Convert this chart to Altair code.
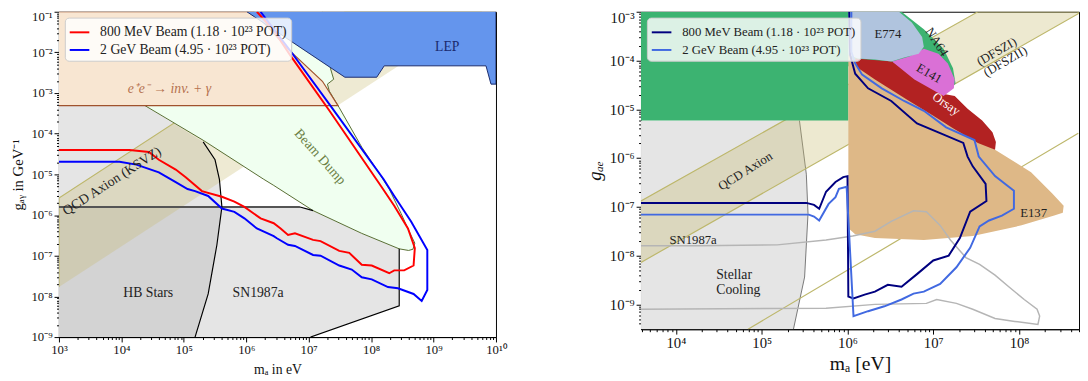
import altair as alt
import pandas as pd
import numpy as np

SERIF = "Liberation Serif"

# ---------------- LEFT PANEL (log10 m_a [eV], log10 g_ag [GeV^-1]) ----------------
red_logm = [3.00, 4.13, 4.44, 4.60, 4.87, 5.03, 5.29, 5.61, 5.81, 5.97, 6.23, 6.44, 6.55, 6.67, 6.78,
            7.07, 7.19, 7.49, 7.65, 7.85, 8.01, 8.29, 8.37, 8.53, 8.68, 8.70, 8.59, 8.37, 8.16, 7.33,
            6.70, 6.44, 6.17]
red_logg = [-4.40, -4.40, -4.45, -4.64, -4.88, -5.07, -5.41, -5.55, -5.67, -5.80, -6.08, -6.20, -6.33,
            -6.49, -6.45, -6.61, -6.64, -6.88, -6.93, -7.22, -7.24, -7.43, -7.36, -7.36, -7.24, -6.81,
            -6.33, -5.77, -5.29, -3.43, -2.06, -1.46, -1.00]
blue_logm = [3.00, 3.97, 4.24, 4.60, 4.87, 5.06, 5.18, 5.39, 5.61, 5.81, 5.97, 6.17, 6.44, 6.49, 6.67,
             6.78, 7.07, 7.19, 7.49, 7.69, 7.85, 8.01, 8.27, 8.43, 8.68, 8.81, 8.90, 8.90, 8.64, 8.37,
             8.20, 7.33, 6.72, 6.23]
blue_logg = [-4.69, -4.69, -4.76, -4.95, -5.19, -5.36, -5.41, -5.53, -5.84, -5.92, -6.08, -6.33, -6.52,
             -6.57, -6.73, -6.76, -6.98, -7.00, -7.24, -7.34, -7.53, -7.58, -7.77, -7.80, -7.94, -8.11,
             -7.84, -6.86, -6.16, -5.53, -5.12, -3.27, -1.99, -1.00]
eeinv_logm = [3.00, 6.12, 6.67, 7.22, 7.47, 3.00]
eeinv_logg = [-1.00, -1.00, -1.92, -2.71, -3.31, -3.31]
beam_logm = [3.00, 3.00, 4.38, 5.31, 6.28, 6.44, 7.07, 7.85, 8.45, 8.60, 8.67, 8.70, 8.60, 8.48, 8.29,
             8.12, 7.85, 7.49, 7.33, 7.30, 7.40, 7.35, 7.22]
beam_logg = [-1.00, -2.06, -3.31, -4.16, -5.12, -5.27, -5.89, -6.45, -6.83, -6.87, -6.84, -6.69, -6.37,
             -5.96, -5.36, -4.95, -4.33, -3.36, -2.95, -2.78, -2.66, -2.40, -1.00]
lep_logm = [6.01, 7.58, 8.09, 8.21, 9.84, 9.92, 10.0, 10.0]
lep_logg = [-1.00, -2.61, -2.61, -2.33, -2.33, -2.78, -2.78, -1.00]
ksvz_logm = [3.00, 3.00, 7.58, 9.77]
ksvz_logg = [-7.77, -5.58, -1.00, -1.00]
gray_up_logm = [3.00, 4.38, 5.31, 5.50, 5.57, 5.61, 3.00]
gray_up_logg = [-3.31, -3.31, -4.20, -4.64, -5.12, -5.80, -5.80]
hb_logm = [3.00, 5.61, 5.53, 5.39, 5.18, 3.00]
hb_logg = [-5.80, -5.80, -6.73, -7.94, -9.00, -9.00]
sn_logm = [5.61, 6.86, 7.07, 7.85, 8.45, 8.45, 7.03, 5.18, 5.39, 5.53]
sn_logg = [-5.80, -5.80, -5.89, -6.45, -6.83, -8.23, -9.00, -9.00, -7.94, -6.73]
hbcurve_logm = [5.31, 5.50, 5.57, 5.61, 5.53, 5.39, 5.18]
hbcurve_logg = [-4.20, -4.64, -5.12, -5.80, -6.73, -7.94, -9.00]
hbline_logm = [3.00, 6.86]
hbline_logg = [-5.80, -5.80]
snedge_a_logm = [6.86, 7.07]
snedge_a_logg = [-5.80, -5.89]
snedge_b_logm = [8.45, 8.45, 7.03]
snedge_b_logg = [-6.83, -8.23, -9.00]

# ---------------- RIGHT PANEL (log10 m_a [eV], log10 g_ae) ----------------
navy_logm = [6.02, 6.03, 6.09, 6.24, 6.51, 6.81, 7.08, 7.35, 7.40, 7.46, 7.61, 7.62, 7.43, 7.31, 7.18,
             7.00, 6.81, 6.63, 6.47, 6.32, 6.20, 6.07, 6.01, 6.00, 5.95, 5.86, 5.75, 5.67, 5.61, 5.52,
             3.593]
navy_logg = [-3.00, -3.88, -4.27, -4.57, -4.83, -5.29, -5.49, -5.69, -5.97, -6.17, -6.53, -6.88, -7.10,
             -7.64, -8.00, -8.10, -8.38, -8.64, -8.60, -8.74, -8.80, -8.88, -8.84, -6.37, -6.39, -6.49,
             -6.69, -7.04, -6.96, -6.92, -6.92]
royal_logm = [6.045, 6.045, 6.09, 6.17, 6.40, 6.66, 6.89, 7.15, 7.48, 7.53, 7.72, 7.88, 7.94, 7.94, 7.80,
              7.65, 7.54, 7.43, 7.27, 7.08, 6.89, 6.77, 6.63, 6.43, 6.24, 6.07, 5.99, 5.90, 5.86, 5.78,
              5.67, 5.61, 5.55, 3.593]
royal_logg = [-3.00, -3.82, -4.06, -4.29, -4.57, -4.83, -5.03, -5.37, -5.63, -5.97, -6.37, -6.59, -6.67,
              -7.04, -7.18, -7.28, -7.40, -7.84, -8.24, -8.58, -8.74, -8.78, -8.90, -9.04, -9.14, -9.24,
              -6.59, -6.63, -6.80, -6.94, -7.28, -7.20, -7.16, -7.16]
stellar_logm = [3.593, 5.44, 5.52, 5.54, 5.50, 5.37, 3.593]
stellar_logg = [-5.23, -5.23, -6.33, -7.14, -8.44, -9.51, -9.51]
stellar_edge_logm = [5.44, 5.52, 5.54, 5.50, 5.37]
stellar_edge_logg = [-5.23, -6.33, -7.14, -8.44, -9.51]
dfsz_logm = [3.593, 7.52, 8.69, 8.69, 3.593]
dfsz_logg = [-6.88, -3.00, -3.00, -3.04, -8.14]
dfsz2_logm = [4.84, 8.69]
dfsz2_logg = [-9.51, -5.49]
green_logm = [3.593, 6.63, 6.89, 7.12, 7.23, 7.26, 7.12, 6.55, 6.01, 6.01, 3.593]
green_logg = [-3.00, -3.00, -3.36, -3.76, -4.16, -4.47, -4.73, -4.33, -4.12, -5.23, -5.23]
e774_logm = [6.01, 6.60, 6.75, 6.87, 6.89, 6.83, 6.66, 6.51, 6.32, 6.12, 6.01]
e774_logg = [-3.00, -3.00, -3.22, -3.52, -3.72, -3.86, -3.94, -4.02, -3.98, -3.96, -3.88]
e141_logm = [6.52, 6.72, 6.89, 7.06, 7.17, 7.25, 7.24, 7.12, 6.78]
e141_logg = [-4.02, -3.92, -3.76, -3.86, -4.06, -4.39, -4.57, -4.73, -4.39]
orsay_logm = [6.09, 6.52, 7.08, 7.25, 7.40, 7.57, 7.69, 7.73, 7.72, 7.52, 7.23, 7.00, 6.70, 6.32, 6.11]
orsay_logg = [-3.96, -4.02, -4.67, -4.73, -4.99, -5.23, -5.47, -5.67, -5.83, -5.69, -5.39, -5.13, -4.81,
              -4.39, -4.14]
e137_logm = [6.01, 6.11, 6.32, 6.70, 7.00, 7.23, 7.52, 7.72, 8.14, 8.39, 8.52, 8.51, 8.41, 8.03, 7.46,
             6.89, 6.32, 6.09, 6.01]
e137_logg = [-3.88, -4.06, -4.33, -4.75, -5.07, -5.33, -5.63, -5.83, -6.29, -6.73, -6.98, -7.12, -7.18,
             -7.38, -7.60, -7.68, -7.64, -7.56, -7.44]
sn_gray_logm = [3.593, 4.27, 5.18, 5.75, 6.06, 6.32, 6.51, 6.77, 6.92, 7.08, 7.20, 7.38, 7.54, 7.72, 7.88,
                8.06, 8.21, 8.24, 8.22, 7.95, 7.72, 7.46, 7.27, 7.04, 6.92, 6.32, 5.75, 3.593]
sn_gray_logg = [-7.80, -7.80, -7.78, -7.68, -7.60, -7.50, -7.30, -7.08, -7.10, -7.38, -7.68, -8.04, -8.18,
                -8.40, -8.64, -8.90, -9.10, -9.24, -9.41, -9.35, -9.29, -9.10, -8.98, -8.90, -8.98, -9.00,
                -9.08, -9.10]

SERIES = ["800 MeV Beam (1.18 · 10²³ POT)", "2 GeV Beam (4.95 · 10²³ POT)"]

SUP = str.maketrans("0123456789-", "⁰¹²³⁴⁵⁶⁷⁸⁹⁻")
MAJ = "abs(datum.value / pow(10, round(log(datum.value) / LN10)) - 1) < 0.001"


def ticks(e0, e1, lo, hi):
    return [k * 10.0 ** e for e in range(e0, e1 + 1) for k in range(1, 10) if lo * 0.999 <= k * 10.0 ** e <= hi * 1.001]


def label_expr(e0, e1):
    arr = "[" + ",".join("'10" + str(e).translate(SUP) + "'" for e in range(e0, e1 + 1)) + "]"
    return f"{MAJ} ? {arr}[round(log(datum.value) / LN10) - ({e0})] : ''"


def axis(values, e0, e1, title, lsize, tsize, tstyle="normal", tpad=4, top=None, off=0):
    extra = {}
    if top is not None:
        extra["labelOffset"] = {"condition": {"test": f"datum.value >= {top}", "value": off}, "value": 0}
    return alt.Axis(values=values, labelExpr=label_expr(e0, e1), title=title, labelFont=SERIF,
                    labelFontSize=lsize, titleFont=SERIF, titleFontSize=tsize, titleFontWeight="normal",
                    titleFontStyle=tstyle, labelOverlap=False, labelFlush=False, grid=False,
                    tickSize={"condition": {"test": MAJ, "value": 5}, "value": 2.5},
                    domainColor="black", tickColor="black", labelColor="#111", titleColor="#111",
                    labelPadding=2, titlePadding=tpad, **extra)


def df_of(logm, logg):
    return pd.DataFrame({"m": 10.0 ** np.array(logm), "g": 10.0 ** np.array(logg), "i": range(len(logm))})


def make_panel(X, Y):
    def poly(logm, logg, fill, stroke=None, sw=1.0, fop=1.0):
        kw = dict(fill=fill, fillOpacity=fop, clip=True)
        if stroke is None:
            kw.update(stroke=fill, strokeWidth=0, strokeOpacity=0)
        else:
            kw.update(stroke=stroke, strokeWidth=sw)
        return alt.Chart(df_of(logm, logg)).mark_line(**kw).encode(x=X, y=Y, order="i:Q")

    def line(logm, logg, color, sw=1.0):
        return alt.Chart(df_of(logm, logg)).mark_line(stroke=color, strokeWidth=sw, clip=True).encode(
            x=X, y=Y, order="i:Q")

    def text(txt, lm, lg, size=13, color="#222", angle=0, align="center", style="normal"):
        return alt.Chart(df_of([lm], [lg])).mark_text(text=txt, font=SERIF, fontSize=size, color=color,
                                                      angle=angle, align=align, baseline="middle",
                                                      fontStyle=style, lineHeight=15).encode(x=X, y=Y)
    return poly, line, text


def sensitivity(X, Y, lm1, lg1, lm2, lg2, colors, lsize):
    d1 = df_of(lm1, lg1).assign(series=SERIES[0])
    d2 = df_of(lm2, lg2).assign(series=SERIES[1])
    d = pd.concat([d1, d2], ignore_index=True)
    return alt.Chart(d).mark_line(strokeWidth=2, clip=True).encode(
        x=X, y=Y, order="i:Q",
        stroke=alt.Stroke("series:N", scale=alt.Scale(domain=SERIES, range=colors),
                          legend=alt.Legend(title=None, orient="none", legendX=6, legendY=6,
                                            fillColor="rgba(255,255,255,0.82)", strokeColor="#cccccc",
                                            cornerRadius=4, padding=4, symbolType="stroke",
                                            symbolStrokeWidth=2, symbolSize=400, labelFont=SERIF,
                                            labelFontSize=lsize, labelColor="#222", rowPadding=0,
                                            labelOffset=10, labelLimit=500)))


# ---------------- left panel ----------------
xsL = alt.Scale(type="log", domain=[1e3, 1e10], nice=False)
ysL = alt.Scale(type="log", domain=[1e-9, 1e-1], nice=False)
XL = alt.X("m:Q", scale=xsL, axis=axis(ticks(3, 10, 1e3, 1e10), 3, 10, "mₐ in eV", 13, 14, tpad=6))
YL = alt.Y("g:Q", scale=ysL, axis=axis(ticks(-9, -1, 1e-9, 1e-1), -9, -1, "gₐᵧ in GeV⁻¹", 13, 15, tpad=6,
                                       top=0.099, off=5))
polyL, lineL, textL = make_panel(XL, YL)

left_layers = [
    polyL(gray_up_logm, gray_up_logg, "#e5e5e5"),
    polyL(hb_logm, hb_logg, "#d3d3d3"),
    polyL(sn_logm, sn_logg, "#e5e5e5"),
    polyL(ksvz_logm, ksvz_logg, "#c8bb6e", stroke="#bdb76b", sw=1.2, fop=0.3),
    polyL(beam_logm, beam_logg, "#f0fff0", stroke="#556b2f", sw=1.0),
    polyL(eeinv_logm, eeinv_logg, "#f8e6d2", stroke="#a0522d", sw=1.2),
    polyL(lep_logm, lep_logg, "#6495ed", stroke="#1a2a6c", sw=1.0),
    lineL(hbline_logm, hbline_logg, "#555555", 2.0),
    lineL(hbcurve_logm, hbcurve_logg, "black", 1.2),
    lineL(snedge_a_logm, snedge_a_logg, "black", 1.2),
    lineL(snedge_b_logm, snedge_b_logg, "black", 1.2),
    sensitivity(XL, YL, red_logm, red_logg, blue_logm, blue_logg, ["#ff0000", "#0000ff"], 14),
    textL("LEP", 9.22, -1.87, 14, "#1a2a6c"),
    textL("e⁺e⁻ → inv. + γ", 4.77, -2.90, 14, "#b5714f", style="italic"),
    textL("Beam Dump", 7.18, -4.57, 14, "#6b7f45", angle=48),
    textL("QCD Axion (KSVZ)", 3.85, -5.17, 14, "#222", angle=327),
    textL("HB Stars", 4.43, -7.92, 14),
    textL("SN1987a", 6.19, -7.92, 14),
]
left = alt.layer(*left_layers).properties(width=446, height=332)

# ---------------- right panel ----------------
xsR = alt.Scale(type="log", domain=[10 ** 3.593, 5e8], nice=False)
ysR = alt.Scale(type="log", domain=[10 ** -9.51, 1e-3], nice=False)
XR = alt.X("m:Q", scale=xsR, axis=axis(ticks(3, 8, 10 ** 3.593, 5e8), 3, 8, "mₐ [eV]", 15, 20, tpad=3))
YR = alt.Y("g:Q", scale=ysR, axis=axis(ticks(-10, -3, 10 ** -9.51, 1e-3), -10, -3, "gₐₑ", 15, 19,
                                       tstyle="italic", tpad=5, top=0.00099, off=6))
polyR, lineR, textR = make_panel(XR, YR)

right_layers = [
    polyR(stellar_logm, stellar_logg, "#e5e5e5"),
    lineR(stellar_edge_logm, stellar_edge_logg, "#777777", 1.0),
    polyR(dfsz_logm, dfsz_logg, "#c8bb6e", stroke="#bdb76b", sw=1.2, fop=0.32),
    lineR(dfsz2_logm, dfsz2_logg, "#bdb76b", 1.2),
    polyR(green_logm, green_logg, "#3cb371"),
    polyR(e137_logm, e137_logg, "#deb887"),
    polyR(orsay_logm, orsay_logg, "#b22222"),
    polyR(e141_logm, e141_logg, "#da70d6"),
    polyR(e774_logm, e774_logg, "#b0c4de"),
    lineR(sn_gray_logm, sn_gray_logg, "#b5b5b5", 1.5),
    sensitivity(XR, YR, navy_logm, navy_logg, royal_logm, royal_logg, ["#00007f", "#4169e1"], 13),
    textR("E774", 6.47, -3.46, 13),
    textR("NA64", 7.04, -3.62, 13, angle=57),
    textR("E141", 6.95, -4.27, 13, angle=30),
    textR("Orsay", 7.15, -4.89, 13, "white", angle=35),
    textR("E137", 8.17, -7.12, 13),
    textR("(DFSZI)", 7.74, -3.82, 13, angle=330),
    textR("(DFSZII)", 7.84, -4.02, 13, angle=330),
    textR("QCD Axion", 4.81, -6.27, 13, angle=328),
    textR("SN1987a", 4.20, -7.68, 13),
    textR(["Stellar", "Cooling"], 4.47, -8.40, 14, align="left"),
]
right = alt.layer(*right_layers).properties(width=447, height=324)

chart = (
    alt.hconcat(left, right, spacing=79)
    .resolve_scale(stroke="independent", x="independent", y="independent")
    .resolve_legend(stroke="independent")
    .properties(padding={"left": 1, "top": -6, "right": 0, "bottom": 0})
    .configure_view(stroke="black", strokeWidth=1)
)

chart.save("out.html", embed_options={"renderer": "svg", "actions": False})
